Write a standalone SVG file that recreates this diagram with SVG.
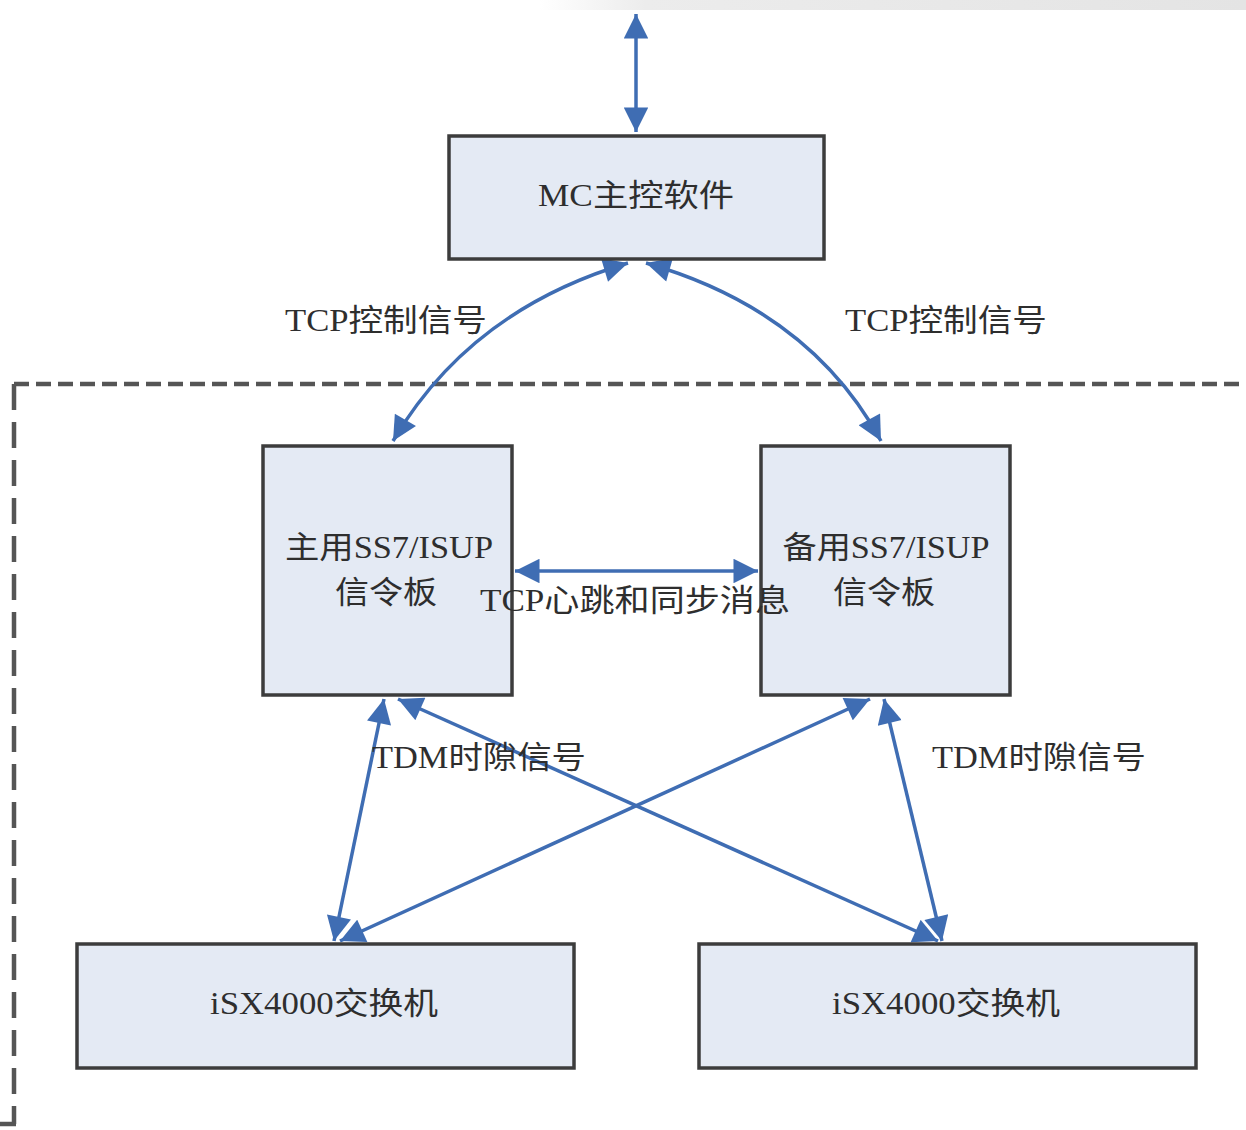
<svg xmlns="http://www.w3.org/2000/svg" width="1246" height="1130" viewBox="0 0 1246 1130">
<style>
.box{fill:#e4eaf4;stroke:#3c3c3c;stroke-width:3.5}
.t{font-family:"Liberation Serif","Noto Sans CJK SC",serif;font-size:31px;fill:#2e2e2e;text-anchor:middle;dominant-baseline:central}
.c{fill:none;stroke:#3f6db3;stroke-width:3.5}
.d{fill:none;stroke:#555;stroke-width:4.5}
</style>
<defs>
<linearGradient id="band" x1="0" x2="1" y1="0" y2="0">
<stop offset="0" stop-color="#ffffff"/>
<stop offset="0.15" stop-color="#ececec"/>
<stop offset="1" stop-color="#e4e4e4"/>
</linearGradient>
<marker id="ah" viewBox="0 0 10 10" refX="10" refY="5" markerWidth="7.5" markerHeight="7" orient="auto-start-reverse" markerUnits="strokeWidth">
<path d="M0,0 L10,5 L0,10 z" fill="#3f6db3"/>
</marker>
</defs>
<rect width="1246" height="1130" fill="#ffffff"/>
<rect x="540" y="0" width="706" height="10" fill="url(#band)"/>
<g id="boundary">
<path class="d" d="M14,384 L1246,384" stroke-dasharray="15,7"/>
<path class="d" d="M14,384 L14,1124" stroke-dasharray="26,12"/>
<path class="d" d="M0,1124 L16,1124"/>
</g>
<g id="connectors">
<line class="c" x1="636" y1="14" x2="636" y2="132" marker-start="url(#ah)" marker-end="url(#ah)"/>
<path class="c" d="M628,263 Q470,310 393,441" marker-start="url(#ah)" marker-end="url(#ah)"/>
<path class="c" d="M646,263 Q810,310 881,441" marker-start="url(#ah)" marker-end="url(#ah)"/>
<line class="c" x1="515" y1="571" x2="758" y2="571" marker-start="url(#ah)" marker-end="url(#ah)"/>
<line class="c" x1="384" y1="699" x2="334" y2="941" marker-start="url(#ah)" marker-end="url(#ah)"/>
<line class="c" x1="398" y1="699" x2="938" y2="941" marker-start="url(#ah)" marker-end="url(#ah)"/>
<line class="c" x1="870" y1="699" x2="340" y2="941" marker-start="url(#ah)" marker-end="url(#ah)"/>
<line class="c" x1="884" y1="699" x2="942" y2="941" marker-start="url(#ah)" marker-end="url(#ah)"/>
</g>
<g id="mc">
<rect class="box" x="449" y="136" width="375" height="123"/>
<text class="t" x="636" y="195" textLength="196" lengthAdjust="spacingAndGlyphs">MC主控软件</text>
</g>
<g id="main-board">
<rect class="box" x="263" y="446" width="249" height="249"/>
<text class="t" x="389" y="547" textLength="208" lengthAdjust="spacingAndGlyphs">主用SS7/ISUP</text>
<text class="t" x="386" y="592" textLength="102" lengthAdjust="spacingAndGlyphs">信令板</text>
</g>
<g id="backup-board">
<rect class="box" x="761" y="446" width="249" height="249"/>
<text class="t" x="886" y="547" textLength="207" lengthAdjust="spacingAndGlyphs">备用SS7/ISUP</text>
<text class="t" x="884" y="592" textLength="102" lengthAdjust="spacingAndGlyphs">信令板</text>
</g>
<g id="switch-left">
<rect class="box" x="77" y="944" width="497" height="124"/>
<text class="t" x="324" y="1003" textLength="228" lengthAdjust="spacingAndGlyphs">iSX4000交换机</text>
</g>
<g id="switch-right">
<rect class="box" x="699" y="944" width="497" height="124"/>
<text class="t" x="946" y="1003" textLength="228" lengthAdjust="spacingAndGlyphs">iSX4000交换机</text>
</g>
<g id="labels">
<text class="t" x="386" y="320" textLength="202" lengthAdjust="spacingAndGlyphs">TCP控制信号</text>
<text class="t" x="946" y="320" textLength="202" lengthAdjust="spacingAndGlyphs">TCP控制信号</text>
<text class="t" x="635" y="600" textLength="310" lengthAdjust="spacingAndGlyphs">TCP心跳和同步消息</text>
<text class="t" x="479" y="757" textLength="214" lengthAdjust="spacingAndGlyphs">TDM时隙信号</text>
<text class="t" x="1039" y="757" textLength="214" lengthAdjust="spacingAndGlyphs">TDM时隙信号</text>
</g>
</svg>
